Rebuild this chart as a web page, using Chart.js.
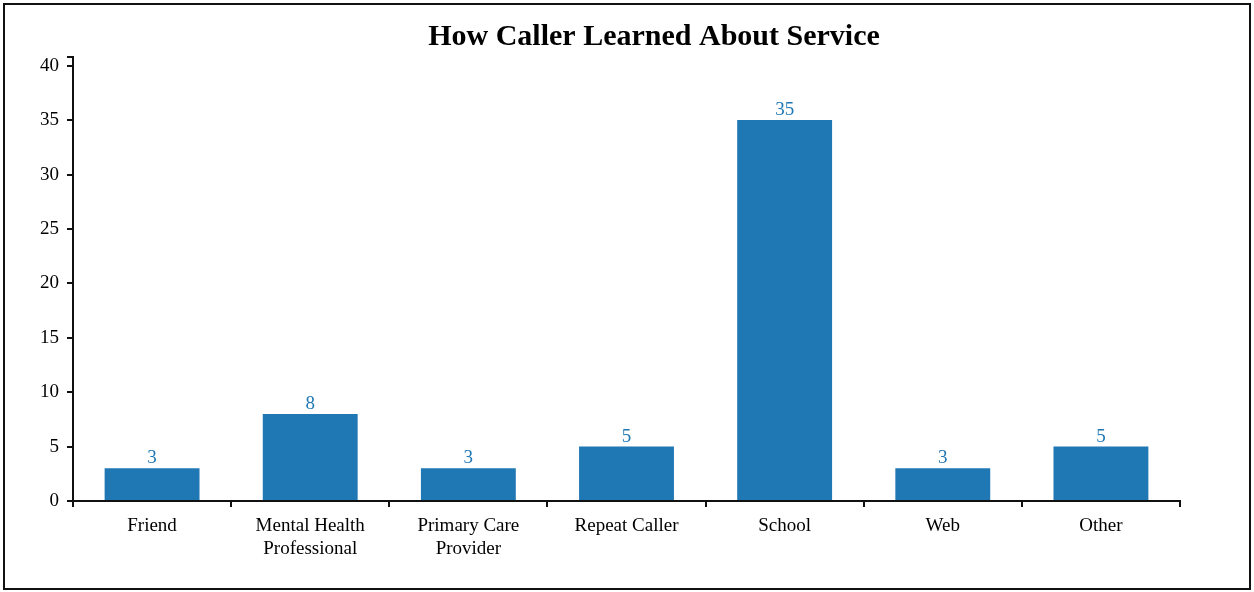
<!DOCTYPE html>
<html>
<head>
<meta charset="utf-8">
<script src="https://cdn.jsdelivr.net/npm/chart.js@4"></script>
<style>
  html, body { margin: 0; padding: 0; background: #fff; }
  #wrap { width: 1254px; height: 592px; }
</style>
</head>
<body>
<div id="wrap"><canvas id="barChart" width="1254" height="592"></canvas></div>
<script>
const chartTitle = 'How Caller Learned About Service';
const categories = [
    'Friend',
    ['Mental Health', 'Professional'],
    ['Primary Care', 'Provider'],
    'Repeat Caller',
    'School',
    'Web',
    'Other'
];
const callerCounts = [3, 8, 3, 5, 35, 3, 5];
const yTicks = [0, 5, 10, 15, 20, 25, 30, 35, 40];
const yMax = 40.8;

const serif = '"Liberation Serif", "Times New Roman", serif';
const barBlue = '#1f77b4';

// white page with a dark frame round it
const framePlugin = {
    id: 'frame',
    beforeDraw(chart) {
        const c = chart.ctx;
        c.save();
        c.fillStyle = '#fff';
        c.fillRect(0, 0, chart.width, chart.height);
        c.strokeStyle = '#111';
        c.lineWidth = 2;
        c.strokeRect(4, 4, 1246, 585);
        c.restore();
    }
};

// title and value labels over each bar
const textPlugin = {
    id: 'texts',
    afterDraw(chart) {
        const c = chart.ctx;
        c.save();
        c.fillStyle = '#000';
        c.font = 'bold 30px ' + serif;
        c.textAlign = 'center';
        c.textBaseline = 'middle';
        c.fillText(chartTitle, 654, 37);

        c.font = '19px ' + serif;
        c.fillStyle = barBlue;
        c.textBaseline = 'alphabetic';
        chart.getDatasetMeta(0).data.forEach((bar, i) => {
            c.fillText(String(callerCounts[i]), bar.x, bar.y - 5);
        });
        c.restore();
    }
};

const ctx = document.getElementById('barChart').getContext('2d');
const chart = new Chart(ctx, {
    type: 'bar',
    data: {
        labels: categories,
        datasets: [{
            data: callerCounts,
            backgroundColor: barBlue,
            borderWidth: 0,
            barPercentage: 0.6,
            categoryPercentage: 1.0
        }]
    },
    options: {
        responsive: false,
        animation: false,
        events: [],
        layout: {
            padding: { left: 0, right: 74, top: 57, bottom: 0 }
        },
        plugins: {
            legend: { display: false },
            tooltip: { enabled: false },
            title: { display: false }
        },
        scales: {
            x: {
                offset: true,
                grid: {
                    offset: true,
                    drawOnChartArea: false,
                    drawTicks: true,
                    tickLength: 6,
                    color: '#111',
                    lineWidth: 2
                },
                border: { display: true, color: '#111', width: 2 },
                ticks: {
                    color: '#000',
                    font: { family: serif, size: 19 },
                    padding: 8,
                    maxRotation: 0,
                    autoSkip: false
                },
                afterFit(scale) { scale.height = 91; }
            },
            y: {
                min: 0,
                max: yMax,
                grid: {
                    drawOnChartArea: false,
                    drawTicks: true,
                    tickLength: 6,
                    color: '#111',
                    lineWidth: 2
                },
                border: { display: true, color: '#111', width: 2 },
                ticks: {
                    color: '#000',
                    font: { family: serif, size: 19 },
                    padding: 8,
                    callback: (v) => yTicks.includes(v) ? String(v) : ''
                },
                afterBuildTicks(scale) {
                    scale.ticks = yTicks.map(v => ({ value: v })).concat([{ value: yMax }]);
                },
                afterFit(scale) { scale.width = 73; }
            }
        }
    },
    plugins: [framePlugin, textPlugin]
});
</script>
</body>
</html>
